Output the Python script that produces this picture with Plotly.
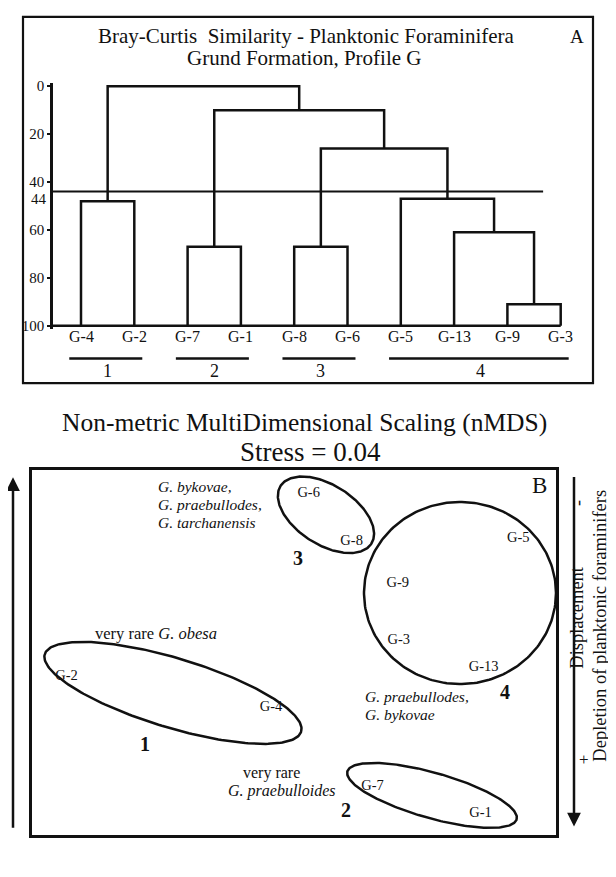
import numpy as np
import plotly.graph_objects as go

W, H = 616, 877
FONT = "Liberation Serif"
INK = "#111111"

# ---------------- Panel A : Bray-Curtis dendrogram ----------------
leaves = ["G-4", "G-2", "G-7", "G-1", "G-8", "G-6", "G-5", "G-13", "G-9", "G-3"]
merge_left = ["G-4", "G-7", "G-8", "G-9", "G-13", "G-5", "m3", "m2", "m1"]
merge_right = ["G-2", "G-1", "G-6", "G-3", "m4", "m5", "m6", "m7", "m8"]
merge_height = [48, 67, 67, 91, 61, 47, 26, 10, 0]
cutoff = 44
y_ticks = [0, 20, 40, 60, 80, 100]
groups = ["1", "2", "3", "4"]
group_first = ["G-4", "G-7", "G-8", "G-5"]
group_last = ["G-2", "G-1", "G-6", "G-3"]

# ---------------- Panel B : nMDS ----------------
samples = ["G-6", "G-8", "G-5", "G-9", "G-3", "G-13", "G-2", "G-4", "G-7", "G-1"]
nmds1 = [0.14, 0.55, 2.14, 0.99, 1.00, 1.81, -2.17, -0.22, 0.75, 1.78]
nmds2 = [1.54, 1.07, 1.10, 0.67, 0.12, -0.14, -0.23, -0.53, -1.29, -1.55]
cluster_names = ["1", "2", "3", "4"]
cluster_cx = [-1.155, 1.317, 0.305, 1.584]
cluster_cy = [-0.386, -1.374, 1.331, 0.577]
cluster_a = [1.279, 0.840, 0.515, 0.916]
cluster_b = [0.334, 0.219, 0.286, 0.878]
cluster_angle = [-17, -16, -33, 0]


def px(x):
    return x / W


def py(y):
    return 1 - y / H


# ---- dendrogram geometry via linkage ----
pos = {name: i for i, name in enumerate(leaves)}
hgt = {name: 100 for name in leaves}
dx, dy = [], []
for k, (l, r, hh) in enumerate(zip(merge_left, merge_right, merge_height)):
    xl, xr = pos[l], pos[r]
    dx += [xl, xl, xr, xr, None]
    dy += [hgt[l], hh, hh, hgt[r], None]
    m = "m%d" % (k + 1)
    pos[m] = (xl + xr) / 2
    hgt[m] = hh

# pixel calibration of panel A
leaf0_px, leaf_step = 73.0, 53.3
xa0 = (45 - leaf0_px) / leaf_step
xa1 = (580 - leaf0_px) / leaf_step

fig = go.Figure()
fig.add_trace(go.Scatter(x=dx, y=dy, mode="lines", line=dict(color=INK, width=2.5),
                         xaxis="x", yaxis="y", hoverinfo="skip", showlegend=False))
fig.add_trace(go.Scatter(x=[xa0, len(leaves) - 1], y=[100, 100], mode="lines",
                         line=dict(color=INK, width=2.5), xaxis="x", yaxis="y",
                         hoverinfo="skip", showlegend=False))
fig.add_trace(go.Scatter(x=[xa0, 8.67], y=[cutoff, cutoff], mode="lines",
                         line=dict(color=INK, width=2), xaxis="x", yaxis="y",
                         hoverinfo="skip", showlegend=False))

# ---- nMDS ----
t = np.linspace(0, 2 * np.pi, 240)
for cx, cy, a, b, ang in zip(cluster_cx, cluster_cy, cluster_a, cluster_b, cluster_angle):
    th = np.deg2rad(ang)
    ex = cx + a * np.cos(t) * np.cos(th) - b * np.sin(t) * np.sin(th)
    ey = cy + a * np.cos(t) * np.sin(th) + b * np.sin(t) * np.cos(th)
    fig.add_trace(go.Scatter(x=ex, y=ey, mode="lines", line=dict(color=INK, width=2.5),
                             xaxis="x2", yaxis="y2", hoverinfo="skip", showlegend=False))
fig.add_trace(go.Scatter(x=nmds1, y=nmds2, mode="text", text=samples,
                         textfont=dict(family=FONT, size=14.5, color=INK),
                         xaxis="x2", yaxis="y2", cliponaxis=False,
                         hoverinfo="skip", showlegend=False))

ann = []


def A(text, x, y, size, xref="paper", yref="paper", xanchor="center", angle=0, yshift=0):
    ann.append(dict(text=text, x=x, y=y, xref=xref, yref=yref, xanchor=xanchor,
                    yanchor="middle", showarrow=False, textangle=angle, yshift=yshift,
                    font=dict(family=FONT, size=size, color=INK)))


# panel A texts
A("Bray-Curtis  Similarity - Planktonic Foraminifera", px(298), py(24), 21)
A("Grund Formation, Profile G", px(296), py(46), 21)
A("A", px(569), py(25), 19)
A("44", px(41), cutoff, 15, yref="y", xanchor="right", yshift=-7)
for i, name in enumerate(leaves):
    A(name, i, 100, 16, xref="x", yref="y", yshift=-11)

shapes = []
shapes.append(dict(type="rect", xref="paper", yref="paper", x0=px(15), x1=px(585),
                   y0=py(375), y1=py(5), line=dict(color=INK, width=2.2)))
for g, f, l in zip(groups, group_first, group_last):
    i0, i1 = leaves.index(f), leaves.index(l)
    shapes.append(dict(type="line", xref="x", yref="paper", x0=i0 - 0.22, x1=i1 + 0.15,
                       y0=py(350), y1=py(350), line=dict(color=INK, width=2.5)))
    A(g, (i0 + i1) / 2, py(363), 18, xref="x")

# panel B titles
A("Non-metric MultiDimensional Scaling (nMDS)", px(296), py(415), 25.5)
A("Stress = 0.04", px(302), py(445), 27)
A("B", 2.338, 1.617, 23, xref="x2", yref="y2")

num_xy = {"3": (0.038, 0.911), "1": (-1.422, -0.883), "2": (0.496, -1.512), "4": (2.013, -0.377)}
for c in cluster_names:
    A("<b>%s</b>" % c, num_xy[c][0], num_xy[c][1], 20, xref="x2", yref="y2")

A("<i>G. bykovae,</i>", -1.317, 1.600, 15.5, xref="x2", yref="y2", xanchor="left")
A("<i>G. praebullodes,</i>", -1.317, 1.426, 15.5, xref="x2", yref="y2", xanchor="left")
A("<i>G. tarchanensis</i>", -1.317, 1.255, 15.5, xref="x2", yref="y2", xanchor="left")
A("very rare <i>G. obesa</i>", -1.918, 0.186, 16.5, xref="x2", yref="y2", xanchor="left")
A("very rare", -0.210, -1.154, 16, xref="x2", yref="y2")
A("<i>G. praebulloides</i>", -0.110, -1.336, 16, xref="x2", yref="y2")
A("<i>G. praebullodes,</i>", 0.658, -0.420, 15.5, xref="x2", yref="y2", xanchor="left")
A("<i>G. bykovae</i>", 0.658, -0.592, 15.5, xref="x2", yref="y2", xanchor="left")

A("-", px(570), py(496), 18, angle=-90)
A("Displacement", px(569), py(612), 18.5, angle=-90)
A("+", px(576), py(755), 17)
A("Depletion of planktonic foraminifers", px(592), py(620), 18.5, angle=-90)

ann.append(dict(x=px(5), y=py(470), xref="paper", yref="paper", ax=0, ay=352,
                text="", showarrow=True, arrowhead=2, arrowsize=1.1, arrowwidth=2.5,
                arrowcolor=INK))
ann.append(dict(x=px(566), y=py(823), xref="paper", yref="paper", ax=0, ay=-351,
                text="", showarrow=True, arrowhead=2, arrowsize=1.1, arrowwidth=2.5,
                arrowcolor=INK))

axB = dict(showline=True, mirror=True, linewidth=2.5, linecolor=INK, showticklabels=False,
           ticks="", showgrid=False, zeroline=False)

fig.update_layout(
    width=W, height=H, margin=dict(l=0, r=0, t=0, b=0),
    paper_bgcolor="white", plot_bgcolor="rgba(0,0,0,0)", showlegend=False,
    xaxis=dict(domain=[px(45), px(580)], range=[xa0, xa1], visible=False),
    yaxis=dict(domain=[py(320.63), py(71.37)], range=[101.5, -1.5], anchor="x",
               tickvals=y_ticks, ticks="outside", ticklen=3, tickwidth=2, tickcolor=INK,
               showline=True, linewidth=2.5, linecolor=INK, showgrid=False, zeroline=False,
               tickfont=dict(family=FONT, size=15, color=INK)),
    xaxis2=dict(domain=[px(24), px(548)], range=[-2.5, 2.5], anchor="y2", **axB),
    yaxis2=dict(domain=[py(832), py(463)], range=[-1.7605, 1.7605], anchor="x2", **axB),
    annotations=ann, shapes=shapes,
)

fig.write_html("out.html")
